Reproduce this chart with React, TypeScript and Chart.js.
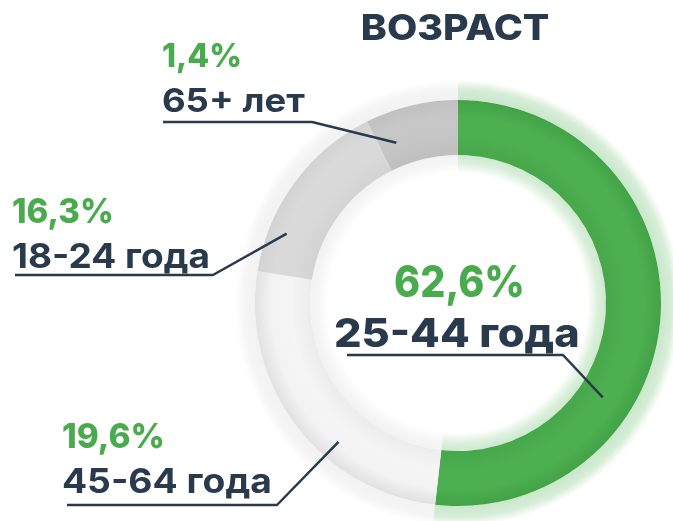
import { useEffect, useRef } from 'react';
import { Chart, registerables } from 'chart.js';

Chart.register(...registerables);

// ---- data ----
const titleText = 'ВОЗРАСТ';
const categories = ['25-44 года', '45-64 года', '18-24 года', '65+ лет'];
const shareLabels = ['62,6%', '19,6%', '16,3%', '1,4%'];
// arc sizes as drawn in the picture (share of the ring)
const arcValues = [51.8, 25.7, 15.1, 7.4];

// ---- styles ----
const NAVY = '#2a3a4d';
const GREEN_TEXT = '#4aab4e';
const CUTOUT = 0.729;
const segmentStops = [
  ['#47a74b', '#4caf50', '#4caf50', '#43a247'],
  ['#ececec', '#f5f5f5', '#f3f3f3', '#e1e1e1'],
  ['#d3d3d3', '#d9d9d9', '#dadada', '#d2d2d2'],
  ['#bfbfbf', '#c5c5c5', '#c7c7c7', '#c0c0c0'],
];
const glow = [
  { color: '76,175,80', outerA: 0.3, innerA: 0.28 },
  { color: '0,0,0', outerA: 0.05, innerA: 0.05 },
  { color: '0,0,0', outerA: 0.05, innerA: 0.05 },
  { color: '0,0,0', outerA: 0.05, innerA: 0.05 },
];

// ---- label layout (text boxes, underline, anchor inside arc) ----
const labelLayout = [
  { pct: [395, 522, 297, 44, 800], cat: [335, 578, 347, 40, 800], line: [347, 563, 355], f: 0.66, rf: 0.45 },
  { pct: [63, 163, 448, 34, 800], cat: [63, 270, 493, 34, 700], line: [67, 277, 505], f: 0.37, rf: 0.64 },
  { pct: [13, 112, 223, 34, 800], cat: [13, 208, 268, 34, 700], line: [15, 213, 275], f: 0.24, rf: 0.67 },
  { pct: [163, 240, 67, 33, 800], cat: [163, 305, 112, 33, 700], line: [163, 312, 122], f: 0.21, rf: 0.43 },
];

function fitText(ctx: CanvasRenderingContext2D, text: string, font: string, color: string, x0: number, x1: number, baseline: number) {
  ctx.save();
  ctx.font = font;
  ctx.fillStyle = color;
  ctx.textAlign = 'left';
  ctx.textBaseline = 'alphabetic';
  const m = ctx.measureText(text);
  const w = m.actualBoundingBoxLeft + m.actualBoundingBoxRight;
  const s = (x1 - x0) / w;
  ctx.translate(x0 + m.actualBoundingBoxLeft * s, baseline);
  ctx.scale(s, 1);
  ctx.fillText(text, 0, 0);
  ctx.restore();
}

function band(ctx: CanvasRenderingContext2D, x: number, y: number, r0: number, r1: number, s: number, e: number, rgb: string, a0: number, aMid: number, a1: number) {
  const g = ctx.createRadialGradient(x, y, r0, x, y, r1);
  g.addColorStop(0, `rgba(${rgb},${a0})`);
  g.addColorStop(0.55, `rgba(${rgb},${aMid})`);
  g.addColorStop(1, `rgba(${rgb},${a1})`);
  ctx.beginPath();
  ctx.arc(x, y, r1, s, e);
  ctx.arc(x, y, r0, e, s, true);
  ctx.closePath();
  ctx.fillStyle = g;
  ctx.fill();
}

const glowPlugin = {
  id: 'ringGlow',
  beforeDatasetsDraw(chart: any) {
    const ctx = chart.ctx;
    const meta = chart.getDatasetMeta(0);
    ctx.save();
    meta.data.forEach((el: any, i: number) => {
      const p = el.getProps(['x', 'y', 'startAngle', 'endAngle', 'innerRadius', 'outerRadius'], true);
      const gl = glow[i];
      band(ctx, p.x, p.y, p.outerRadius, p.outerRadius + 20, p.startAngle, p.endAngle, gl.color, gl.outerA, gl.outerA * 0.75, 0);
      band(ctx, p.x, p.y, p.innerRadius - 18, p.innerRadius, p.startAngle, p.endAngle, gl.color, 0, gl.innerA * 0.7, gl.innerA);
    });
    ctx.restore();
  },
};

const labelPlugin = {
  id: 'ringLabels',
  afterDraw(chart: any) {
    const ctx = chart.ctx;
    const meta = chart.getDatasetMeta(0);
    const fam = 'Inter, "Noto Sans", sans-serif';
    ctx.save();
    fitText(ctx, titleText, `800 36px ${fam}`, NAVY, 363, 549, 40);
    meta.data.forEach((el: any, i: number) => {
      const p = el.getProps(['x', 'y', 'startAngle', 'endAngle', 'innerRadius', 'outerRadius'], true);
      const L = labelLayout[i];
      const ang = p.startAngle + (p.endAngle - p.startAngle) * L.f;
      const rad = p.innerRadius + (p.outerRadius - p.innerRadius) * L.rf;
      const ax = p.x + Math.cos(ang) * rad;
      const ay = p.y + Math.sin(ang) * rad;
      ctx.beginPath();
      ctx.strokeStyle = NAVY;
      ctx.lineWidth = 2.5;
      ctx.lineJoin = 'round';
      ctx.moveTo(L.line[0], L.line[2]);
      ctx.lineTo(L.line[1], L.line[2]);
      ctx.lineTo(ax, ay);
      ctx.stroke();
      fitText(ctx, shareLabels[i], `${L.pct[4]} ${L.pct[3]}px ${fam}`, GREEN_TEXT, L.pct[0], L.pct[1], L.pct[2]);
      fitText(ctx, categories[i], `${L.cat[4]} ${L.cat[3]}px ${fam}`, NAVY, L.cat[0], L.cat[1], L.cat[2]);
    });
    ctx.restore();
  },
};

export default function App() {
  const ref = useRef<HTMLCanvasElement>(null);
  useEffect(() => {
    if (!ref.current) return;
    const chart = new Chart(ref.current, {
      type: 'doughnut',
      data: {
        labels: categories,
        datasets: [
          {
            data: arcValues,
            borderWidth: 0,
            backgroundColor: (c: any) => {
              const chart = c.chart;
              const a = chart.chartArea;
              const stops = segmentStops[c.dataIndex] || segmentStops[0];
              if (!a) return stops[1];
              const cx = (a.left + a.right) / 2;
              const cy = (a.top + a.bottom) / 2;
              const R = Math.min(a.right - a.left, a.bottom - a.top) / 2;
              const r = R * CUTOUT;
              const g = chart.ctx.createRadialGradient(cx, cy, r, cx, cy, R);
              g.addColorStop(0, stops[0]);
              g.addColorStop(0.35, stops[1]);
              g.addColorStop(0.7, stops[2]);
              g.addColorStop(1, stops[3]);
              return g;
            },
          },
        ],
      },
      options: {
        animation: false,
        responsive: true,
        maintainAspectRatio: false,
        cutout: `${CUTOUT * 100}%`,
        rotation: 0,
        layout: { padding: { left: 255, right: 12, top: 100, bottom: 15 } },
        plugins: { legend: { display: false }, tooltip: { enabled: false } },
      },
      plugins: [glowPlugin, labelPlugin],
    });
    return () => chart.destroy();
  }, []);
  return (
    <div style={{ position: 'fixed', left: 0, top: 0, width: 673, height: 521, background: '#ffffff' }}>
      <canvas ref={ref} />
    </div>
  );
}
